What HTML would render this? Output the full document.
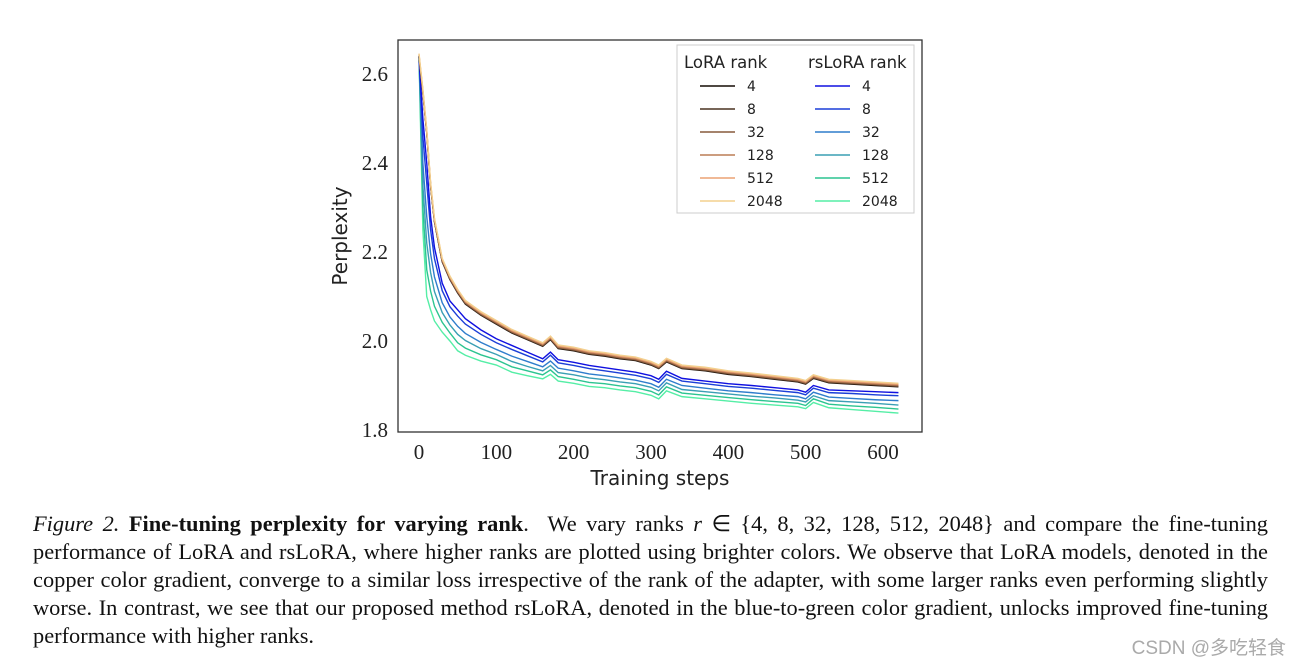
<!DOCTYPE html>
<html><head><meta charset="utf-8"><style>
body{margin:0;background:#fff;width:1294px;height:668px;overflow:hidden;position:relative}
.cap{position:absolute;left:33px;top:510px;width:1235px;font-family:"Liberation Serif",serif;font-size:22.4px;line-height:28px;color:#111}
.cap div{text-align:justify;text-align-last:justify;white-space:normal;height:28px;overflow:hidden}
.cap div.last{text-align-last:left}
.wm{position:absolute;right:8px;top:633px;font-family:"Liberation Sans","Noto Sans CJK SC",sans-serif;font-size:19px;color:#aaa}
</style></head><body>
<svg width="1294" height="500" style="position:absolute;left:0;top:0">
<rect x="398" y="40" width="524" height="392" fill="#fff" stroke="#333" stroke-width="1.3"/>
<g id="ticks" font-family="Liberation Serif,serif" font-size="21" fill="#222"></g>
<g id="series" fill="none" stroke-width="1.4"></g>
<text transform="translate(347,236) rotate(-90)" text-anchor="middle" font-family="DejaVu Sans,sans-serif" font-size="20" fill="#222">Perplexity</text>
<text x="660" y="485" text-anchor="middle" font-family="DejaVu Sans,sans-serif" font-size="20" fill="#222">Training steps</text>
<g id="legend" font-family="DejaVu Sans,sans-serif" fill="#222">
<rect x="677" y="45" width="237" height="168" fill="#fff" stroke="#ccc"/>
<text x="684" y="68" font-size="16.5">LoRA rank</text>
<text x="808" y="68" font-size="16.5">rsLoRA rank</text>
</g>
</svg>
<div class="cap">
<div><i>Figure 2.</i> <b>Fine-tuning perplexity for varying rank</b>.&nbsp; We vary ranks <i>r</i> &isin; {4, 8, 32, 128, 512, 2048} and compare the fine-tuning</div>
<div>performance of LoRA and rsLoRA, where higher ranks are plotted using brighter colors. We observe that LoRA models, denoted in the</div>
<div>copper color gradient, converge to a similar loss irrespective of the rank of the adapter, with some larger ranks even performing slightly</div>
<div>worse. In contrast, we see that our proposed method rsLoRA, denoted in the blue-to-green color gradient, unlocks improved fine-tuning</div>
<div class="last">performance with higher ranks.</div>
</div>
<div class="wm">CSDN @多吃轻食</div>
<script>
const steps=[0,5,10,15,20,30,40,50,60,80,100,120,140,160,170,180,200,220,240,260,280,300,310,320,340,370,400,430,460,490,500,510,530,560,590,620];
const ranks=["4","8","32","128","512","2048"];
const loraBase=[2.64,2.56,2.47,2.35,2.27,2.18,2.14,2.11,2.085,2.06,2.04,2.02,2.005,1.99,2.005,1.985,1.98,1.972,1.968,1.962,1.958,1.948,1.94,1.955,1.94,1.935,1.927,1.922,1.916,1.91,1.905,1.918,1.908,1.905,1.902,1.899];
const loraShift=[-0.002,-0.001,0,0.002,0.004,0.006];
const rs4=[2.64,2.50,2.40,2.28,2.21,2.13,2.09,2.07,2.05,2.025,2.005,1.99,1.975,1.96,1.975,1.958,1.952,1.945,1.94,1.935,1.93,1.922,1.914,1.932,1.916,1.91,1.904,1.9,1.895,1.89,1.885,1.9,1.89,1.888,1.886,1.884];
const rs8=[2.64,2.46,2.355,2.25,2.185,2.113,2.077,2.056,2.038,2.015,1.996,1.981,1.967,1.953,1.968,1.951,1.945,1.938,1.933,1.928,1.923,1.915,1.907,1.925,1.91,1.904,1.898,1.894,1.889,1.884,1.879,1.894,1.884,1.882,1.879,1.877];
const rs32=[2.64,2.40,2.28,2.196,2.144,2.086,2.054,2.033,2.017,1.997,1.981,1.966,1.954,1.942,1.955,1.939,1.933,1.926,1.922,1.917,1.912,1.904,1.896,1.914,1.9,1.894,1.888,1.884,1.879,1.875,1.87,1.885,1.874,1.871,1.868,1.866];
const rs128=[2.64,2.35,2.22,2.154,2.111,2.064,2.036,2.015,2.001,1.983,1.97,1.954,1.943,1.933,1.945,1.929,1.924,1.917,1.913,1.908,1.904,1.896,1.888,1.906,1.891,1.886,1.881,1.876,1.872,1.867,1.863,1.877,1.866,1.863,1.86,1.856];
const rs512=[2.64,2.30,2.16,2.112,2.078,2.042,2.018,1.996,1.984,1.969,1.958,1.942,1.933,1.924,1.935,1.92,1.914,1.907,1.904,1.899,1.895,1.887,1.879,1.897,1.883,1.878,1.873,1.868,1.864,1.86,1.855,1.87,1.858,1.854,1.851,1.847];
const rs2048=[2.64,2.25,2.10,2.07,2.045,2.02,2.0,1.978,1.968,1.955,1.946,1.93,1.922,1.915,1.925,1.91,1.905,1.898,1.895,1.89,1.886,1.878,1.87,1.888,1.875,1.87,1.865,1.86,1.856,1.852,1.848,1.862,1.85,1.846,1.842,1.838];
const xTicks=[0,100,200,300,400,500,600];
const yTicks=[1.8,2.0,2.2,2.4,2.6];
const loraColors=["#150c05","#4a3220","#875a3c","#bb7d55","#eba274","#f3d08e"];
const rsColors=["#1010e0","#1c3fd8","#2f7dcc","#3a9fb4","#2cc490","#55eea6"];
const X=v=>419+v*0.7733, Y=v=>74+(2.6-v)*445;
const NS="http://www.w3.org/2000/svg";
const tg=document.getElementById('ticks');
xTicks.forEach(t=>{const e=document.createElementNS(NS,'text');


e.setAttribute('x',X(t));e.setAttribute('y',459);e.setAttribute('text-anchor','middle');e.textContent=t;tg.appendChild(e);});
yTicks.forEach(t=>{const e=document.createElementNS(NS,'text');


e.setAttribute('x',388);e.setAttribute('y',Y(t)+7);e.setAttribute('text-anchor','end');e.textContent=t.toFixed(1);tg.appendChild(e);});
const sg=document.getElementById('series');
function line(vals,col,name){const p=document.createElementNS(NS,'polyline');


p.setAttribute('points',vals.map((v,i)=>X(steps[i])+','+Y(v)).join(' '));p.setAttribute('stroke',col);sg.appendChild(p);}
const rsAll=[rs4,rs8,rs32,rs128,rs512,rs2048];
for(let i=5;i>=0;i--) line(rsAll[i],rsColors[i],'rslora-line-'+ranks[i]);
for(let i=0;i<6;i++) line(loraBase.map(v=>v+loraShift[i]),loraColors[i],'lora-line-'+ranks[i]);
const lg=document.getElementById('legend');
ranks.forEach((r,i)=>{const y=86+i*23;
[[700,loraColors[i],'lora'],[815,rsColors[i],'rslora']].forEach(([x,c,k])=>{
const l=document.createElementNS(NS,'line');


l.setAttribute('x1',x);l.setAttribute('x2',x+35);l.setAttribute('y1',y);l.setAttribute('y2',y);l.setAttribute('stroke',c);l.setAttribute('stroke-width','1.5');lg.appendChild(l);
const t=document.createElementNS(NS,'text');


t.setAttribute('x',x+47);t.setAttribute('y',y+5);t.setAttribute('font-size','14');t.textContent=r;lg.appendChild(t);});});
</script>
</body></html>
